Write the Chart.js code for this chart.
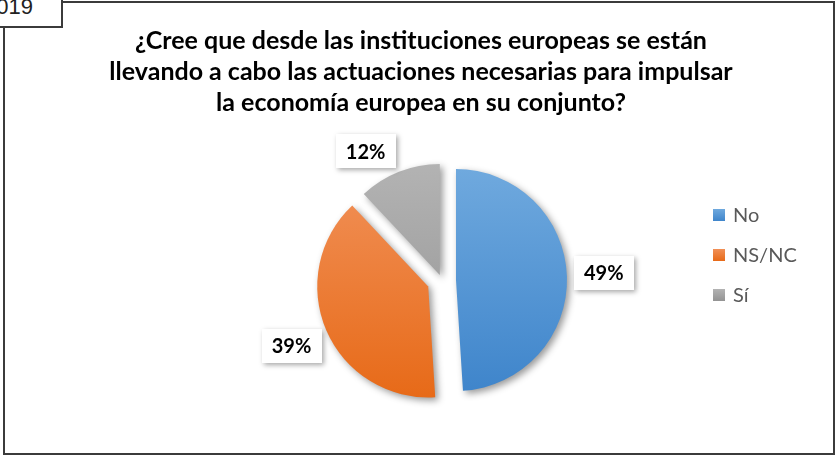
<!DOCTYPE html>
<html>
<head>
<meta charset="utf-8">
<script src="https://cdn.jsdelivr.net/npm/chart.js@4/dist/chart.umd.min.js"></script>
<style>
html, body { margin: 0; padding: 0; background: #fff; overflow: hidden; }
#wrap { position: relative; width: 837px; height: 457px; overflow: hidden; background: #fff; }
#frame { position: absolute; left: 3px; top: 1px; width: 832px; height: 454px; box-sizing: border-box; border: 2px solid #3b3b3b; }
#tag { position: absolute; left: -3px; top: -3px; width: 66px; height: 31px; box-sizing: border-box; border: 2px solid #3b3b3b; background: #fff; overflow: hidden; z-index: 3; }
#tag span { position: absolute; right: 28px; top: -3px; font: 22px 'Liberation Sans', Arial, sans-serif; line-height: 1; color: #222; }
canvas { position: absolute; left: 0; top: 0; z-index: 2; }
</style>
</head>
<body>
<div id="wrap">
  <div id="frame"></div>
  <canvas id="c" width="837" height="457"></canvas>
  <div id="tag"><span>2019</span></div>
</div>
<script>
// ---- data ----
const categories = ['No', 'NS/NC', 'Sí'];
const percentValues = [49, 39, 12];
const titleLines = [
  '¿Cree que desde las instituciones europeas se están',
  'llevando a cabo las actuaciones necesarias para impulsar',
  'la economía europea en su conjunto?'
];
const valueSuffix = '%';

// ---- styles ----
const FONT = "Lato, 'Open Sans', sans-serif";
const PIE_RADIUS = 111;
const gradientStops = [
  ['#6fa9de', '#3f85cb'],   // blue
  ['#f19057', '#e76a18'],   // orange
  ['#b3b3b3', '#939393']    // gray
];

function sliceGradient(c) {
  const chart = c.chart;
  const area = chart.chartArea;
  const idx = c.dataIndex;
  if (idx === undefined) return gradientStops[0][1];
  const stops = gradientStops[idx % gradientStops.length];
  if (!area) return stops[1];
  const cy = (area.top + area.bottom) / 2;
  const g = chart.ctx.createLinearGradient(0, cy - PIE_RADIUS, 0, cy + PIE_RADIUS);
  g.addColorStop(0, stops[0]);
  g.addColorStop(1, stops[1]);
  return g;
}

// shift the full-width title so it is centred on the frame, not on the pie area
const titleShiftPlugin = {
  id: 'titleShift',
  afterLayout(chart, args, opts) {
    if (chart.titleBlock) {
      chart.titleBlock.left = opts.left;
      chart.titleBlock.right = opts.right;
    }
  }
};

// exploded slices with a soft shadow, drawn through the library's arc elements
const explodePlugin = {
  id: 'explode',
  beforeDatasetDraw(chart, args, opts) {
    const ctx = chart.ctx;
    args.meta.data.forEach((arc, i) => {
      const d = opts.distances[i] || 0;
      const mid = (arc.startAngle + arc.endAngle) / 2;
      ctx.save();
      ctx.shadowColor = opts.shadowColor;
      ctx.shadowBlur = opts.shadowBlur;
      ctx.shadowOffsetX = opts.shadowOffsetX;
      ctx.shadowOffsetY = opts.shadowOffsetY;
      ctx.translate(Math.cos(mid) * d, Math.sin(mid) * d);
      arc.draw(ctx);
      ctx.restore();
    });
    return false;
  }
};

// boxed value labels outside the slices
const boxLabelPlugin = {
  id: 'boxLabels',
  afterDraw(chart, args, opts) {
    const ctx = chart.ctx;
    const meta = chart.getDatasetMeta(0);
    const values = chart.data.datasets[0].data;
    ctx.save();
    ctx.font = opts.font;
    ctx.textAlign = 'center';
    ctx.textBaseline = 'middle';
    meta.data.forEach((arc, i) => {
      const mid = (arc.startAngle + arc.endAngle) / 2 + (opts.angleShift[i] || 0) * Math.PI / 180;
      const dist = opts.distances[i];
      const x = arc.x + Math.cos(mid) * dist;
      const y = arc.y + Math.sin(mid) * dist;
      const text = values[i] + valueSuffix;
      const w = ctx.measureText(text).width + opts.padX * 2;
      const h = opts.boxHeight;
      ctx.save();
      ctx.shadowColor = 'rgba(0,0,0,0.35)';
      ctx.shadowBlur = 5;
      ctx.shadowOffsetX = 2;
      ctx.shadowOffsetY = 2;
      ctx.fillStyle = '#ffffff';
      ctx.fillRect(Math.round(x - w / 2), Math.round(y - h / 2), Math.round(w), h);
      ctx.restore();
      ctx.fillStyle = '#000000';
      ctx.fillText(text, x, y + 1);
    });
    ctx.restore();
  }
};

// legend on the right
const sideLegendPlugin = {
  id: 'sideLegend',
  afterDraw(chart, args, opts) {
    const ctx = chart.ctx;
    ctx.save();
    ctx.font = opts.font;
    ctx.textAlign = 'left';
    ctx.textBaseline = 'middle';
    chart.data.labels.forEach((label, i) => {
      const cy = opts.y + i * opts.spacing;
      const stops = gradientStops[i % gradientStops.length];
      const g = ctx.createLinearGradient(0, cy - opts.box / 2, 0, cy + opts.box / 2);
      g.addColorStop(0, stops[0]);
      g.addColorStop(1, stops[1]);
      ctx.fillStyle = g;
      ctx.fillRect(opts.x, Math.round(cy - opts.box / 2), opts.box, opts.box);
      ctx.fillStyle = opts.color;
      ctx.fillText(label, opts.x + opts.box + opts.gap, cy + 1);
    });
    ctx.restore();
  }
};

new Chart(document.getElementById('c'), {
  type: 'pie',
  data: {
    labels: categories,
    datasets: [{
      data: percentValues,
      backgroundColor: sliceGradient,
      borderWidth: 0,
      offset: 0
    }]
  },
  options: {
    responsive: false,
    animation: false,
    devicePixelRatio: 1,
    radius: PIE_RADIUS,
    layout: { padding: { left: 47, right: 0, top: 0, bottom: 14 } },
    events: [],
    plugins: {
      legend: { display: false },
      tooltip: { enabled: false },
      title: {
        display: true,
        text: titleLines,
        color: '#000000',
        font: { family: FONT, size: 25, weight: 'bold', lineHeight: 1.24 },
        padding: { top: 25, bottom: 0 }
      },
      titleShift: { left: 5, right: 837 },
      explode: { distances: [14, 15, 6], shadowColor: 'rgba(0,0,0,0.4)', shadowBlur: 7, shadowOffsetX: 3, shadowOffsetY: 3 },
      boxLabels: { font: "bold 20px " + FONT, distances: [162, 164, 150], angleShift: [-1, 0, -9], padX: 10, boxHeight: 34 },
      sideLegend: { x: 713, y: 215, spacing: 40, box: 12, gap: 8, font: "20px " + FONT, color: '#595959' }
    }
  },
  plugins: [titleShiftPlugin, explodePlugin, boxLabelPlugin, sideLegendPlugin]
});
</script>
</body>
</html>
